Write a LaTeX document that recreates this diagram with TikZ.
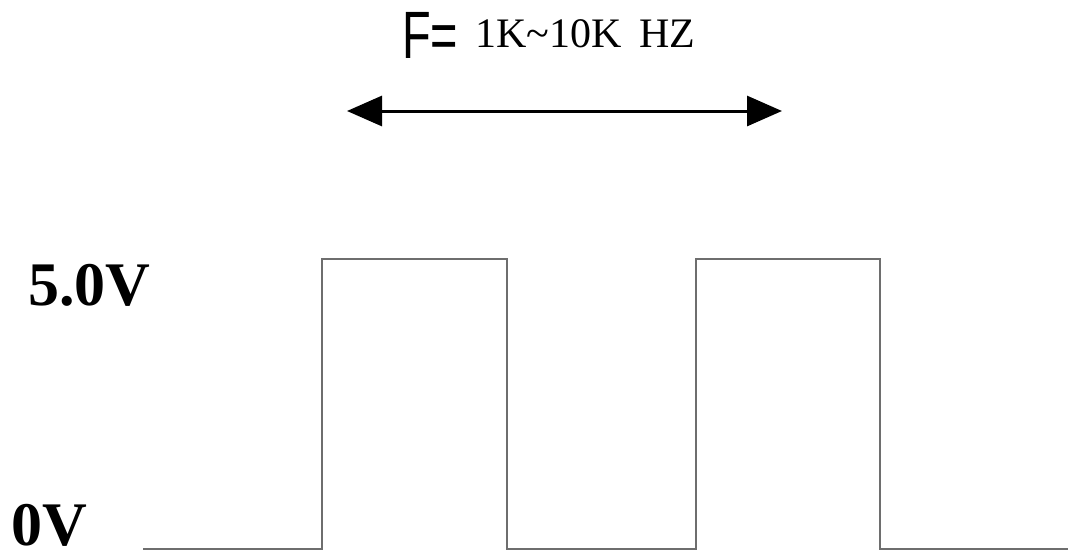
\documentclass[tikz,border=0pt]{standalone}
\usepackage{fontspec}
\setmainfont{Liberation Serif}
\newfontfamily\arialish{Liberation Sans}
\usepackage{tikz}
\usetikzlibrary{arrows.meta}
\definecolor{wave}{HTML}{6E6E6E}
\definecolor{ink}{HTML}{000000}
\tikzset{
  sig/.style={draw=wave, line width=2pt, line join=miter},
  span/.style={draw=ink, line width=3pt, {Triangle[length=35pt,width=30pt]}-{Triangle[length=35pt,width=30pt]}},
  lvl/.style={text=ink, inner sep=0pt, font=\fontsize{62}{62}\selectfont\bfseries},
  lab/.style={text=ink, inner sep=0pt, font=\fontsize{42}{42}\selectfont},
}

\begin{document}
\begin{tikzpicture}[x=1pt,y=-1pt]
  \useasboundingbox (0,0) rectangle (1070,555);
  % levels
  \def\lo{549}
  \def\hi{259}
  \coordinate (S) at (143,\lo);
  \coordinate (E) at (1068,\lo);

  % square wave
  \draw[sig] (S) -- (322,\lo) -- (322,\hi) -- (507,\hi) -- (507,\lo)
    -- (696,\lo) -- (696,\hi) -- (880,\hi) -- (880,\lo) -- (E);

  % period arrow
  \coordinate (L) at (347,111);
  \coordinate (R) at (782,111);
  \draw[span] (L) -- (R);

  % labels
  \node[lvl, anchor=base west] (high) at (28,305) {5.0V};
  \node[lvl, anchor=base west] (low) at (11,545) {0V};
  \node[inner sep=0pt, anchor=base west, xscale=0.7, transform shape,
    font=\fontsize{67}{67}\selectfont\arialish] (feq) at (402,58) {F=};
  \node[lab, anchor=base west] (freq) at (475,47) {1K\textasciitilde 10K\hspace{18pt}HZ};
\end{tikzpicture}
\end{document}
